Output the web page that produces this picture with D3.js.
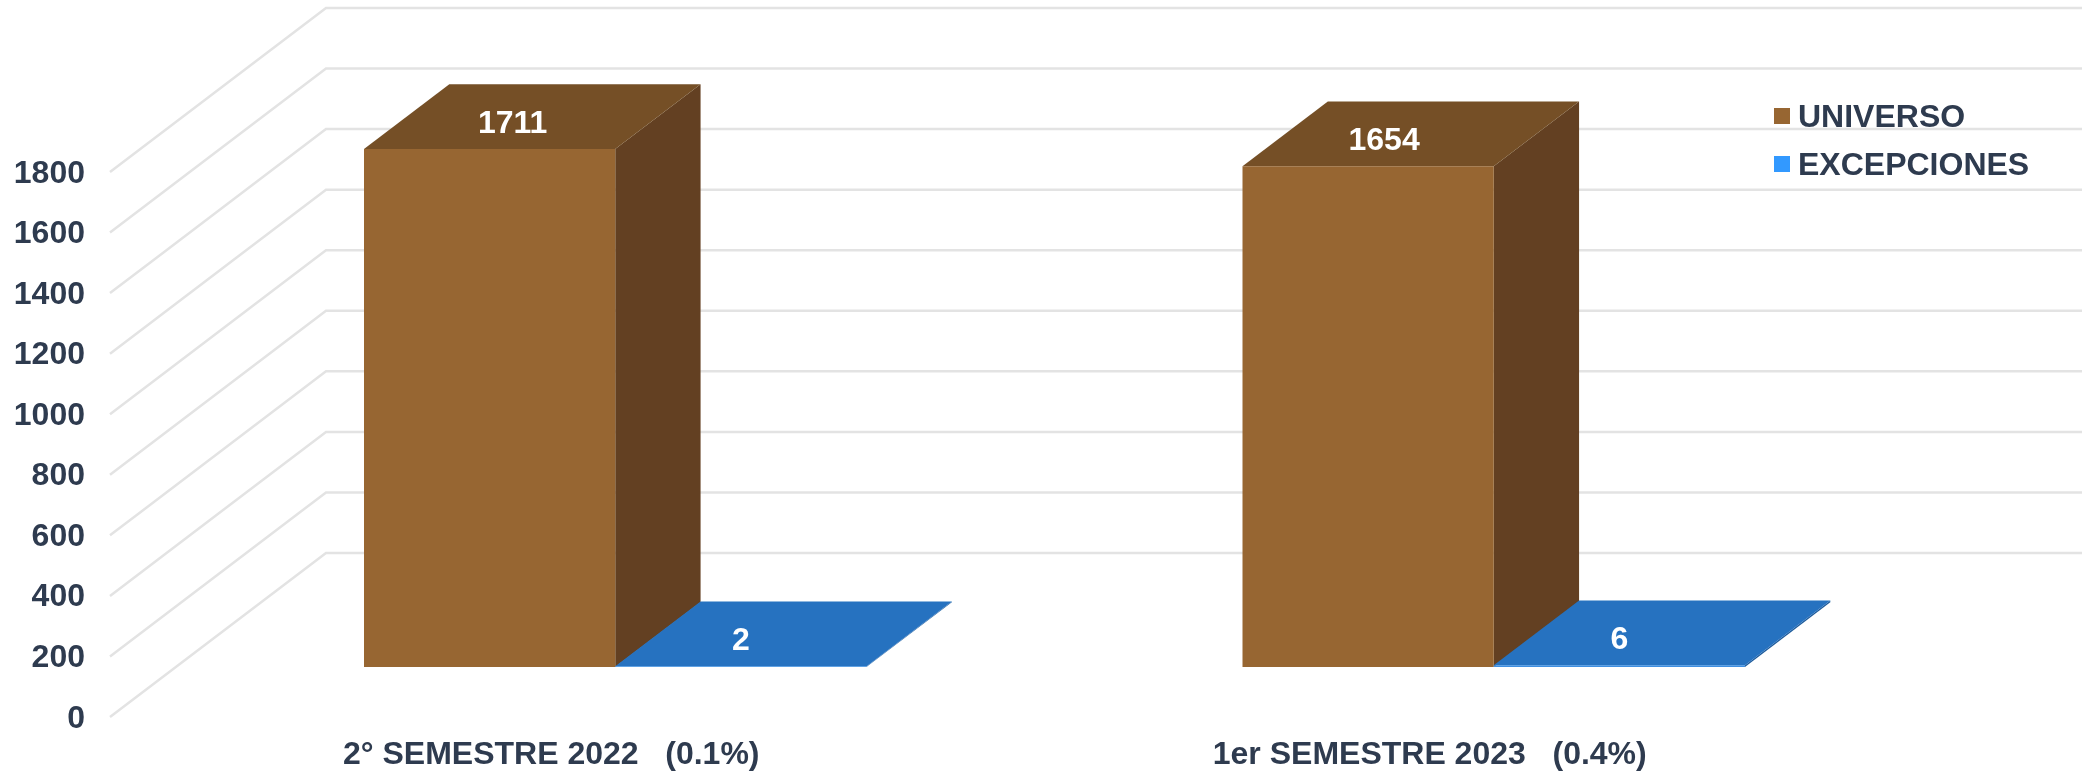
<!DOCTYPE html>
<html>
<head>
<meta charset="utf-8">
<script src="https://cdn.jsdelivr.net/npm/d3@7/dist/d3.min.js"></script>
<style>
html,body{margin:0;padding:0;background:#fff;overflow:hidden}
svg{display:block}
text{font-family:"Liberation Sans",Arial,sans-serif;font-weight:700;white-space:pre}
</style>
</head>
<body>
<svg id="chart" width="2082" height="773"></svg>
<script>
const categories = ["2° SEMESTRE 2022   (0.1%)", "1er SEMESTRE 2023   (0.4%)"];
const seriesNames = ["UNIVERSO", "EXCEPCIONES"];
const universo = [1711, 1654];
const excepciones = [2, 6];
const yTicks = [0, 200, 400, 600, 800, 1000, 1200, 1400, 1600, 1800];
const seriesValues = [universo, excepciones];

const W = 2082, H = 773;
const textColor = "#2F3B4F", gridColor = "#E3E3E3";
const colors = [
  {front:"#976631", top:"#744F26", side:"#634020"},
  {front:"#3F8FE0", top:"#2672C0", side:"#1F5C9C"}
];
const legendColors = ["#976631", "#3399FF"];
const fontSize = 32;

const svg = d3.select("#chart");
const defs = svg.append("defs");
defs.append("filter").attr("id", "soft").attr("x", "-2%").attr("y", "-2%").attr("width", "104%").attr("height", "104%")
  .append("feGaussianBlur").attr("stdDeviation", 0.55);
const root = svg.append("g").attr("filter", "url(#soft)");

const y = d3.scaleLinear().domain([0, 1800]).range([717, 172]);
const depthX = d3.scaleLinear().domain([0, 1]).range([0, 216]);
const depthY = d3.scaleLinear().domain([0, 1]).range([0, -164]);
const wallLeft = 110;
const barNear = 0.305, barFar = 0.70;

const x0 = d3.scaleBand().domain(categories).range([364, 1745]).paddingInner(0.428).paddingOuter(0);
const x1 = d3.scaleBand().domain(seriesNames).range([0, x0.bandwidth()]);

// gridlines: side wall + back wall
const line = d3.line();
root.append("g").selectAll("path").data(yTicks).join("path")
  .attr("d", v => line([
    [wallLeft, y(v)],
    [wallLeft + depthX(1), y(v) + depthY(1)],
    [W + 10, y(v) + depthY(1)]
  ]))
  .attr("fill", "none").attr("stroke", gridColor).attr("stroke-width", 2.5);

// y axis labels
const axis = root.append("g")
  .attr("transform", "translate(85,0)")
  .call(d3.axisLeft(y).tickValues(yTicks).tickSize(0).tickPadding(0).tickFormat(d3.format("d")));
axis.select(".domain").remove();
axis.attr("font-size", null).attr("font-family", null);
axis.selectAll("text")
  .attr("font-size", fontSize).attr("fill", textColor)
  .attr("x", 0).attr("dy", null)
  .attr("y", 10);

// 3D bars
const bars = [];
seriesNames.forEach((s, si) => categories.forEach((c, ci) => bars.push({s, si, c, ci, v: seriesValues[si][ci]})));
const g = root.append("g");
const fmt = pts => line(pts) + "Z";
const labelShift = [[23, 16], [0, 0]];
bars.forEach(d => {
  const xl = x0(d.c) + x1(d.s), xr = xl + x1.bandwidth();
  const yb = y(0) + depthY(barNear), yt = y(d.v) + depthY(barNear);
  const dx = depthX(barFar) - depthX(barNear), dy = depthY(barFar) - depthY(barNear);
  const col = colors[d.si];
  g.append("path").attr("d", fmt([[xr, yb], [xr + dx, yb + dy], [xr + dx, yt + dy], [xr, yt]])).attr("fill", col.side);
  g.append("path").attr("d", fmt([[xl, yt], [xl + dx, yt + dy], [xr + dx, yt + dy], [xr, yt]])).attr("fill", col.top);
  g.append("path").attr("d", fmt([[xl, yb], [xr, yb], [xr, yt], [xl, yt]])).attr("fill", col.front);
  root.append("text")
    .attr("x", (xl + xr) / 2 + labelShift[d.si][d.ci])
    .attr("y", yt + dy / 2 + 16)
    .attr("text-anchor", "middle").attr("font-size", fontSize).attr("fill", "#fff")
    .text(d.v);
});

// category labels
root.append("g").selectAll("text").data(categories).join("text")
  .attr("x", c => x0(c) + x1.bandwidth() - 64)
  .attr("y", 764)
  .attr("text-anchor", "middle").attr("font-size", fontSize).attr("fill", textColor)
  .text(c => c);

// legend
const lg = root.append("g").selectAll("g").data(seriesNames).join("g")
  .attr("transform", (s, i) => `translate(1774,${108 + i * 48})`);
lg.append("rect").attr("width", 16).attr("height", 16).attr("fill", (s, i) => legendColors[i]);
lg.append("text").attr("x", 24).attr("y", 19).attr("font-size", fontSize).attr("fill", textColor).text(s => s);
</script>
</body>
</html>
